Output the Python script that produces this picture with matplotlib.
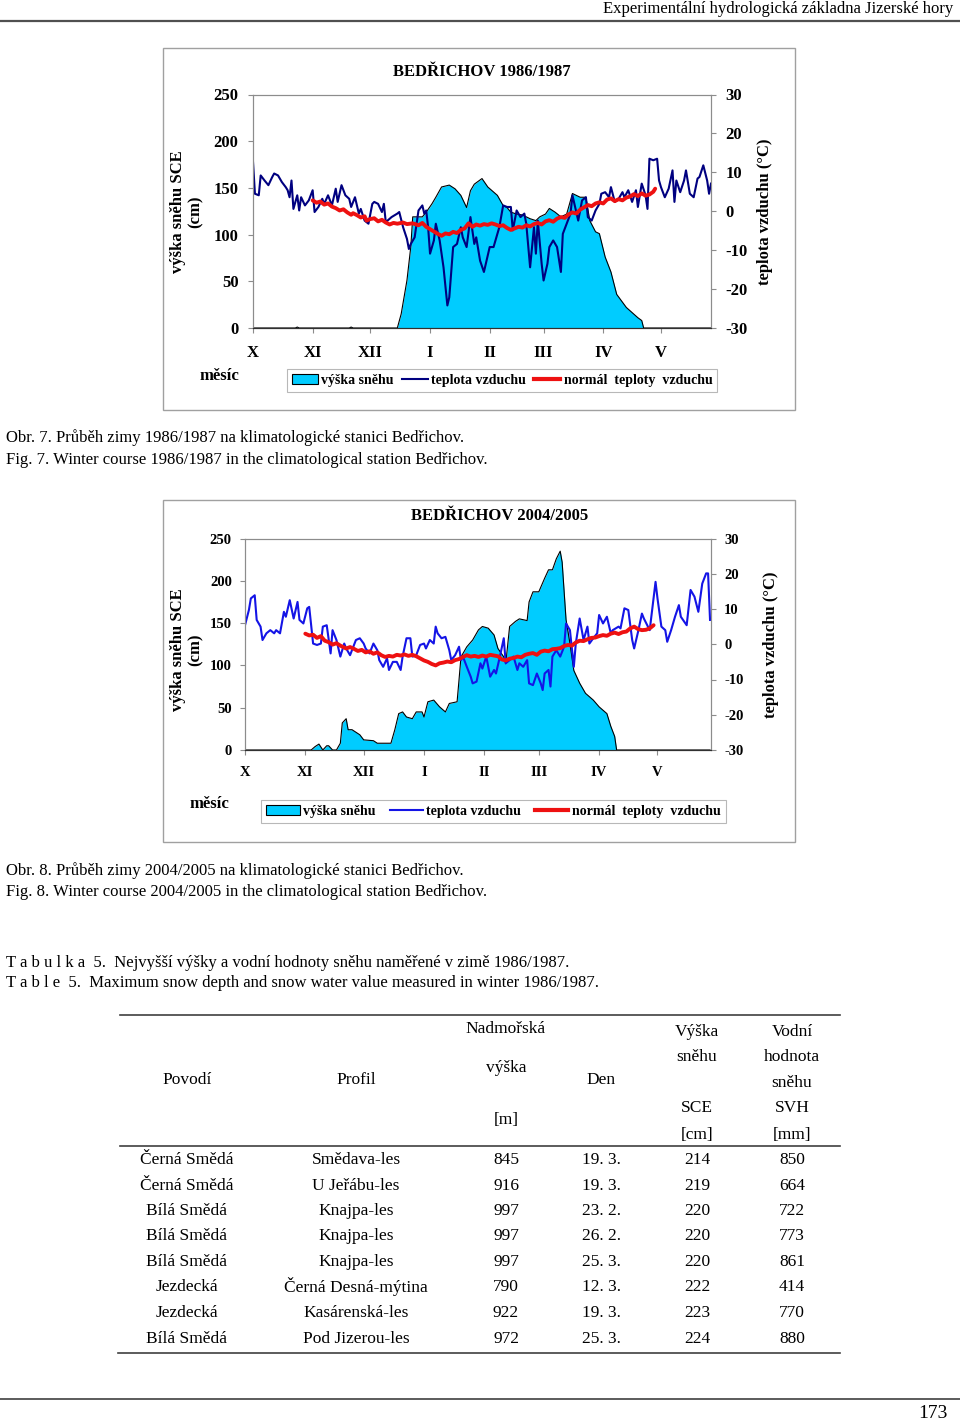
"""Snow depth and air temperature in Bedřichov, two winters, plus the table 5 page"""

import matplotlib

matplotlib.use("Agg")
import matplotlib.pyplot as plt
from matplotlib.patches import Rectangle, Patch
from matplotlib.lines import Line2D

plt.rcParams["font.family"] = ["Liberation Serif", "DejaVu Serif"]
plt.rcParams["axes.unicode_minus"] = False

W, H = 960, 1423  # page size in pixels

# MONTHS (days since 1 October)
month_days = [0, 31, 61, 92, 123, 151, 182, 212]
month_names = ["X", "XI", "XII", "I", "II", "III", "IV", "V"]

# WINTER 1986/1987
snow1_day = [0, 22, 23, 24, 50, 51, 52, 70, 75, 77, 80, 82, 83, 88, 90, 93, 95, 98,
             102, 105, 108, 111, 113, 115, 119, 122, 127, 130, 132, 134, 137, 140,
             144, 147, 149, 152, 154, 157, 160, 163, 166, 170, 173, 175, 178, 180,
             183, 186, 189, 194, 200, 202, 203, 238]
snow1_cm = [0, 0, 1, 0, 0, 1, 0, 0, 0, 15, 51, 87, 119, 119, 124, 133, 140, 151,
            153, 149, 142, 129, 147, 154, 160, 151, 142, 131, 129, 124, 122, 121,
            117, 115, 119, 122, 128, 124, 119, 122, 144, 140, 140, 115, 103, 101,
            76, 60, 36, 22, 11, 8, 0, 0]

temp1_day = [0, 1, 3, 4, 6, 8, 10, 11, 13, 15,
             17, 18, 19, 20, 21, 23, 24, 25, 27, 29,
             31, 32, 34, 36, 37, 39, 41, 43, 44, 46,
             48, 50, 51, 53, 55, 56, 58, 60, 62, 63,
             65, 67, 68, 69, 72, 75, 76, 78, 80, 81,
             82, 84, 86, 88, 89, 90, 91, 92, 94, 95,
             97, 99, 101, 102, 104, 106, 108, 109, 111, 113,
             115, 116, 118, 120, 121, 123, 125, 127, 128, 130,
             132, 134, 135, 137, 139, 141, 142, 144, 146, 147,
             148, 150, 151, 153, 154, 156, 158, 160, 161, 163,
             165, 166, 167, 169, 171, 173, 174, 176, 178, 180,
             181, 183, 185, 186, 188, 190, 192, 193, 195, 197,
             199, 200, 202, 204, 205, 206, 208, 210, 211, 212,
             214, 216, 218, 219, 220, 222, 224, 225, 227, 229,
             231, 232, 234, 236, 237, 238]
temp1_c = [12.7, 4.5, 4.1, 9.2, 7.9, 6.7, 8.8, 9.7, 9.2, 7.5,
           6.2, 5.4, 3.6, 7.9, 0.6, 4.1, 0.2, 3.6, 1.5, 2.8,
           5.4, -0.2, 1.1, 3.2, 1.9, 4.1, 1.5, 5.8, 2.4, 6.7,
           4.1, 3.2, 1.1, 3.6, -0.6, 0.6, -2.4, -3.2, 1.9, 2.4,
           1.9, -0.2, 1.9, -2.8, -1.5, -0.6, -0.2, -4.1, -7.1, -9.7,
           -8.4, -6.7, 0.2, 1.5, -0.6, 0.2, -4.1, -10.9, -7.5, -3.2,
           -7.5, -14.4, -24.2, -22.1, -9.2, -8.4, -4.1, -6.7, -9.2, -1.5,
           -8.4, -6.7, -12.7, -15.6, -13.5, -9.2, -9.2, -5.8, -4.1, 1.5,
           1.1, 1.1, -4.9, 0.2, -1.5, -0.6, -3.2, -14.4, -4.1, -10.9,
           -2.4, -13.5, -17.8, -13.5, -9.2, -7.5, -9.2, -15.6, -5.8, -3.2,
           -0.6, 4.1, 1.9, -2.4, 2.8, 3.6, -1.5, -2.4, 0.2, 1.9,
           4.5, 4.9, 3.6, 6.2, 2.4, 3.2, 4.9, 3.6, 5.4, 2.4,
           5.4, 1.1, 7.1, 4.1, 0.6, 13.5, 13.1, 13.5, 7.9, 6.2,
           3.6, 5.8, 10.5, 2.4, 7.9, 4.9, 7.9, 10.5, 4.5, 3.6,
           8.4, 8.8, 11.8, 7.9, 4.5, 7.1]

norm1_day = [31, 33, 35, 37, 39, 41, 43, 45, 47, 49, 51, 52, 54, 56, 58, 59, 61, 63,
             65, 67, 69, 71, 73, 75, 78, 80, 83, 86, 88, 90, 92, 94, 96, 98, 100,
             102, 104, 106, 108, 110, 112, 114, 116, 118, 120, 122, 124, 126, 128,
             130, 132, 134, 136, 138, 140, 142, 144, 146, 148, 150, 152, 154, 156,
             158, 160, 162, 164, 166, 168, 170, 172, 174, 176, 178, 180, 182, 184,
             186, 188, 190, 192, 194, 196, 198, 200, 202, 204, 206, 208, 209]
norm1_c = [2.8, 2.2, 2.5, 1.7, 2.0, 1.2, 0.8, 0.2, 0.5, -0.3, -0.9, -0.5, -1.0, -1.6,
           -1.3, -2.4, -2.0, -1.8, -2.6, -2.2, -2.9, -3.4, -3.0, -3.2, -2.9, -3.3,
           -3.1, -3.6, -3.0, -4.0, -4.6, -5.2, -5.8, -6.3, -5.7, -5.9, -5.3, -5.6,
           -4.8, -4.4, -3.1, -4.0, -3.4, -3.7, -3.3, -3.5, -3.1, -3.4, -3.8, -3.6,
           -4.3, -4.8, -4.4, -4.0, -4.2, -3.6, -3.9, -3.3, -3.0, -3.4, -2.6, -2.3,
           -2.7, -1.9, -1.5, -1.7, -0.8, -0.3, -0.6, 0.4, 1.0, 1.6, 1.3, 2.0, 2.3,
           2.0, 3.0, 3.3, 2.6, 3.1, 2.8, 3.5, 3.8, 4.4, 3.9, 4.6, 4.0, 4.3, 5.0, 5.8]

# WINTER 2004/2005
snow2_day = [0, 34, 36, 38, 40, 42, 43, 45, 47, 49,
             50, 52, 53, 55, 59, 61, 66, 68, 75, 77,
             79, 81, 83, 86, 88, 91, 92, 94, 97, 100,
             103, 105, 109, 110, 111, 114, 117, 120, 122, 125,
             128, 130, 133, 134, 136, 139, 141, 145, 146, 148,
             151, 154, 156, 158, 160, 162, 163, 165, 167, 169,
             172, 175, 179, 182, 186, 188, 190, 191, 239]
snow2_cm = [0, 0, 4, 7, 0, 5, 5, 0, 0, 8,
            32, 37, 24, 24, 18, 12, 11, 8, 8, 24,
            43, 45, 39, 37, 45, 45, 39, 57, 59, 51,
            45, 55, 57, 83, 110, 122, 130, 142, 146, 144,
            136, 120, 110, 102, 146, 152, 155, 153, 175, 187,
            187, 203, 213, 213, 226, 235, 222, 154, 126, 94,
            79, 67, 59, 51, 43, 28, 16, 0, 0]

temp2_day = [0, 2, 3, 5, 6, 8, 9, 11, 13, 15,
             16, 18, 20, 21, 23, 25, 27, 28, 30, 32,
             33, 35, 37, 39, 40, 42, 44, 45, 47, 49,
             51, 52, 54, 57, 59, 61, 62, 64, 66, 68,
             69, 71, 73, 74, 76, 78, 80, 81, 83, 85,
             86, 88, 90, 92, 93, 95, 97, 98, 99, 101,
             103, 105, 106, 108, 110, 111, 112, 114, 116, 117,
             119, 121, 122, 124, 126, 128, 129, 131, 133, 134,
             136, 138, 140, 141, 143, 145, 146, 148, 150, 152,
             153, 154, 156, 157, 158, 160, 162, 164, 165, 167,
             169, 170, 172, 174, 176, 177, 179, 181, 182, 184,
             186, 188, 189, 192, 193, 195, 197, 199, 200, 202,
             204, 205, 208, 211, 212, 214, 216, 217, 219, 221,
             223, 224, 227, 229, 231, 233, 235, 237, 238, 239]
temp2_c = [5.4, 9.7, 13.0, 13.9, 6.9, 5.0, 1.2, 3.1, 4.0, 3.1,
           4.0, 3.1, 9.2, 7.8, 12.5, 7.3, 12.0, 6.9, 5.9, 10.2,
           10.6, 0.2, -0.2, 0.2, 5.0, 5.4, -2.6, 4.0, 1.2, -3.5,
           0.2, -1.2, -3.1, 1.2, 1.7, 0.2, -1.2, -2.6, 0.2, -1.7,
           -4.5, -6.4, -4.0, -7.3, -5.0, -5.0, -7.3, -3.5, 1.7, 1.7,
           -3.5, -3.1, -0.2, 0.2, -1.2, 1.2, 0.2, 5.0, 3.1, 1.7,
           2.1, -1.7, -4.5, -3.1, -0.7, -4.5, -3.5, -6.4, -9.2, -11.1,
           -10.6, -5.4, -6.9, -3.5, -9.2, -7.3, -8.3, -3.5, 1.7, -5.4,
           -4.5, -3.5, -7.3, -5.4, -6.4, -4.5, -11.1, -11.6, -8.3, -11.1,
           -13.0, -8.3, -7.3, -12.0, -3.5, -1.7, -3.5, -0.7, 5.9, 4.0,
           -6.4, 0.2, 7.3, 1.2, 5.0, 0.2, 1.7, 3.1, 8.3, 5.9,
           7.8, 3.1, 4.0, 5.0, 4.5, 10.2, 9.7, 1.2, -1.2, 3.5,
           8.7, 7.3, 4.0, 17.7, 13.0, 5.0, 4.0, 0.7, 4.0, 7.8,
           11.1, 7.8, 5.4, 15.4, 13.5, 9.2, 17.2, 20.1, 20.1, 6.9]

norm2_day = [31, 33, 35, 37, 39, 41, 43, 45, 47, 49, 52, 54, 56, 58, 60, 62, 64, 66,
             68, 70, 72, 74, 76, 78, 80, 82, 84, 86, 88, 90, 92, 94, 96, 98, 100,
             102, 104, 106, 108, 110, 112, 114, 116, 118, 120, 122, 124, 126, 128,
             130, 132, 134, 136, 138, 140, 142, 144, 146, 148, 150, 152, 154, 156,
             158, 160, 162, 164, 166, 168, 170, 172, 174, 176, 178, 180, 182, 184,
             186, 188, 190, 192, 194, 196, 198, 200, 202, 204, 206, 208, 210]
norm2_c = [3.0, 2.5, 2.7, 1.8, 2.3, 1.0, 0.6, -0.1, 0.3, -0.4, -1.2, -0.8, -1.3, -1.9,
           -1.6, -2.3, -2.0, -2.7, -2.3, -3.1, -3.6, -3.3, -3.5, -3.0, -3.2, -2.9,
           -3.3, -3.0, -3.4, -4.0, -4.6, -5.0, -5.6, -6.0, -5.4, -5.2, -4.9, -5.1,
           -4.5, -4.2, -3.6, -3.1, -3.5, -3.3, -3.6, -3.2, -3.5, -3.0, -3.2, -3.4,
           -4.3, -4.6, -4.1, -3.9, -3.5, -3.7, -3.0, -2.7, -2.5, -3.0, -2.1, -1.8,
           -2.0, -1.4, -1.3, -1.1, -0.5, -0.2, -0.4, 0.5, 1.0, 0.9, 1.4, 1.8, 1.9,
           2.3, 2.6, 2.4, 3.0, 3.3, 2.9, 3.4, 3.6, 4.5, 5.0, 4.3, 4.0, 4.1, 4.5, 5.4]

# TABLE 5
povodi = ["Černá Smědá", "Černá Smědá", "Bílá Smědá", "Bílá Smědá", "Bílá Smědá",
          "Jezdecká", "Jezdecká", "Bílá Smědá"]
profil = ["Smědava-les", "U Jeřábu-les", "Knajpa-les", "Knajpa-les", "Knajpa-les",
          "Černá Desná-mýtina", "Kasárenská-les", "Pod Jizerou-les"]
vyska = [845, 916, 997, 997, 997, 790, 922, 972]
den = ["19. 3.", "19. 3.", "23. 2.", "26. 2.", "25. 3.", "12. 3.", "19. 3.", "25. 3."]
sce = [214, 219, 220, 220, 220, 222, 223, 224]
svh = [850, 664, 722, 773, 861, 414, 770, 880]

SNOW = "#00CCFF"
GRAY = "#8c8c8c"


def fx(x):
    return x / W


def fy(y):
    return 1 - y / H


def hline(fig, y, x0, x1, lw=1.2, color="#404040"):
    fig.add_artist(Line2D([fx(x0), fx(x1)], [fy(y), fy(y)], lw=lw, color=color,
                          transform=fig.transFigure))


def winter_chart(fig, box, frame, xmax, snow, temp, norm, temp_color, title,
                 title_xy, tick_size, label_xy, mesic_xy, legend_box, leg_space):
    """Draw one winter chart: snow area on the left axis, temperatures on the right"""

    # outer gray frame of the chart object
    x0, y0, x1, y1 = frame
    fig.add_artist(Rectangle((fx(x0), fy(y1)), fx(x1 - x0), (y1 - y0) / H,
                             transform=fig.transFigure, fill=False,
                             edgecolor="#a0a0a0", lw=1.0))

    l, t, r, b = box
    ax = fig.add_axes([fx(l), fy(b), fx(r - l), (b - t) / H])
    ax2 = ax.twinx()

    # snow depth
    ax.fill_between(snow[0], snow[1], 0, color=SNOW, lw=0)
    ax.plot(snow[0], snow[1], color="black", lw=0.8)
    ax.set_ylim(0, 250)
    ax.set_xlim(0, xmax)
    ax.set_yticks(range(0, 251, 50))
    ax.set_xticks(month_days)
    ax.set_xticklabels(month_names)

    # temperatures
    ax2.plot(temp[0], temp[1], color=temp_color, lw=1.5)
    ax2.plot(norm[0], norm[1], color="#ee1111", lw=2.8, solid_capstyle="round")
    ax2.set_ylim(-30, 30)
    ax2.set_yticks(range(-30, 31, 10))

    for a in (ax, ax2):
        for side in ("left", "top", "right"):
            a.spines[side].set_color(GRAY)
        a.spines["bottom"].set_color("#303030")
        a.tick_params(colors=GRAY, labelcolor="black", length=3.5, width=0.8)
    pad = 7 if tick_size > 11 else 6
    ax.tick_params(axis="y", labelsize=tick_size, pad=pad)
    ax2.tick_params(axis="y", labelsize=tick_size, pad=pad)
    ax.tick_params(axis="x", labelsize=tick_size, pad=pad + 2)
    for lab in ax.get_yticklabels() + ax.get_xticklabels() + ax2.get_yticklabels():
        lab.set_fontweight("bold")

    # texts
    fig.text(fx(title_xy[0]), fy(title_xy[1]), title, ha="center", va="center",
             fontsize=12, fontweight="bold")
    fig.text(fx(label_xy[0]), fy(label_xy[1]), "výška sněhu SCE\n(cm)", rotation=90,
             ha="center", va="center", multialignment="center", fontsize=12,
             fontweight="bold", linespacing=1.15)
    fig.text(fx(label_xy[2]), fy(label_xy[3]), "teplota vzduchu (°C)", rotation=90,
             ha="center", va="center", fontsize=12, fontweight="bold")
    fig.text(fx(mesic_xy[0]), fy(mesic_xy[1]), "měsíc", ha="center", va="center",
             fontsize=12, fontweight="bold")

    # legend
    handles = [
        Patch(facecolor=SNOW, edgecolor="black", lw=0.8),
        Line2D([], [], color=temp_color, lw=1.5),
        Line2D([], [], color="#ee1111", lw=3),
    ]
    labels = ["výška sněhu", "teplota vzduchu", "normál  teploty  vzduchu"]
    lx0, ly0, lx1, ly1 = legend_box
    leg = ax2.legend(handles, labels, ncol=3, loc="center",
                     bbox_to_anchor=(fx((lx0 + lx1) / 2), fy((ly0 + ly1) / 2)),
                     bbox_transform=fig.transFigure, fancybox=False, framealpha=1,
                     edgecolor="#b8b8b8", handlelength=leg_space[0],
                     handletextpad=0.25, columnspacing=leg_space[1], borderpad=0.35,
                     prop={"weight": "bold", "size": 10})
    leg.get_frame().set_linewidth(0.8)
    return ax, ax2


fig = plt.figure(figsize=(W / 100, H / 100), dpi=100)

# page header and footer
fig.text(fx(953), fy(9), "Experimentální hydrologická základna Jizerské hory",
         ha="right", va="center", fontsize=12)
hline(fig, 21, 0, 960, lw=1.6, color="#505050")
hline(fig, 1399, 0, 960, lw=1.2, color="#404040")
fig.text(fx(948), fy(1413), "173", ha="right", va="center", fontsize=14)

# chart 1
winter_chart(fig, (253, 94.5, 711, 328), (163, 48, 795, 410), 238,
             (snow1_day, snow1_cm), (temp1_day, temp1_c), (norm1_day, norm1_c),
             "#000080", "BEDŘICHOV 1986/1987", (482, 72), 12,
             (187, 212, 765, 212), (219, 376), (284, 368, 720, 393), (1.9, 0.55))
fig.text(fx(6), fy(438), "Obr. 7. Průběh zimy 1986/1987 na klimatologické stanici Bedřichov.",
         ha="left", va="center", fontsize=12)
fig.text(fx(6), fy(460), "Fig. 7. Winter course 1986/1987 in the climatological station Bedřichov.",
         ha="left", va="center", fontsize=12)

# chart 2
winter_chart(fig, (245, 538.5, 711, 750), (163, 500, 795, 842), 239.5,
             (snow2_day, snow2_cm), (temp2_day, temp2_c), (norm2_day, norm2_c),
             "#1414e6", "BEDŘICHOV 2004/2005", (500, 516), 10.5,
             (187, 650, 771, 645), (209, 804), (260, 798, 727, 825), (2.4, 1.0))
fig.text(fx(6), fy(871), "Obr. 8. Průběh zimy 2004/2005 na klimatologické stanici Bedřichov.",
         ha="left", va="center", fontsize=12)
fig.text(fx(6), fy(892), "Fig. 8. Winter course 2004/2005 in the climatological station Bedřichov.",
         ha="left", va="center", fontsize=12)

# table 5
fig.text(fx(6), fy(963),
         "T a b u l k a  5.  Nejvyšší výšky a vodní hodnoty sněhu naměřené v zimě 1986/1987.",
         ha="left", va="center", fontsize=12)
fig.text(fx(6), fy(983),
         "T a b l e  5.  Maximum snow depth and snow water value measured in winter 1986/1987.",
         ha="left", va="center", fontsize=12)

col_x = [187, 356, 506, 601, 697, 792]
row_y = [1160, 1186, 1211, 1236, 1262, 1287, 1313, 1339]
header = [
    (187, 1080, "Povodí"), (356, 1080, "Profil"),
    (506, 1029, "Nadmořská"), (506, 1068, "výška"), (506, 1120, "[m]"),
    (601, 1080, "Den"),
    (697, 1032, "Výška"), (697, 1057, "sněhu"), (697, 1108, "SCE"), (697, 1135, "[cm]"),
    (792, 1032, "Vodní"), (792, 1057, "hodnota"), (792, 1083, "sněhu"),
    (792, 1108, "SVH"), (792, 1135, "[mm]"),
]
for x, y, s in header:
    fig.text(fx(x), fy(y), s, ha="center", va="center", fontsize=12.5)

hline(fig, 1015, 120, 840, lw=1.2)
hline(fig, 1146, 120, 840, lw=1.2)
hline(fig, 1353, 118, 840, lw=1.2)

for i, y in enumerate(row_y):
    cells = [povodi[i], profil[i], str(vyska[i]), den[i], str(sce[i]), str(svh[i])]
    for x, s in zip(col_x, cells):
        fig.text(fx(x), fy(y), s, ha="center", va="center", fontsize=12.5)

fig.savefig("out.png", dpi=100)
